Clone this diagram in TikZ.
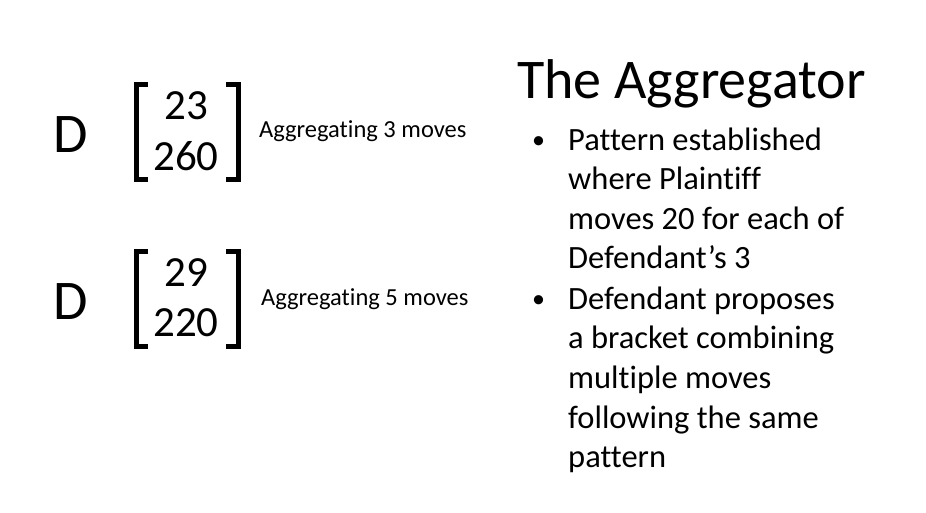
\documentclass[tikz,border=0pt]{standalone}
\usepackage{fontspec}
\setmainfont[Ligatures={NoCommon}]{Carlito}
\begin{document}
\begin{tikzpicture}[x=1pt,y=-1pt,
  big/.style={font=\fontsize{56}{56}\selectfont,anchor=center,inner sep=0},
  num/.style={font=\fontsize{43}{43}\selectfont,anchor=center,inner sep=0},
  lab/.style={font=\fontsize{24.5}{24.5}\selectfont,anchor=west,inner sep=0},
  txt/.style={font=\fontsize{32.5}{32.5}\selectfont,anchor=base west,inner sep=0},
  brk/.style={line width=5pt,line cap=butt}]
\useasboundingbox (0,0) rectangle (926,512);
\node[big] (d1) at (71,135) {D};
\draw[brk] (148,84) -- (136,84) -- (136,179) -- (148,179);
\draw[brk] (226,84) -- (238,84) -- (238,179) -- (226,179);
\node[num] (n1) at (186,106) {23};
\node[num] (n2) at (186,156) {260};
\node[lab] (l1) at (259,131) {Aggregating 3 moves};
\node[big] (d2) at (71,302) {D};
\draw[brk] (148,251) -- (136,251) -- (136,346) -- (148,346);
\draw[brk] (226,251) -- (238,251) -- (238,346) -- (226,346);
\node[num] (n3) at (186,273) {29};
\node[num] (n4) at (186,323) {220};
\node[lab] (l2) at (261,299) {Aggregating 5 moves};
\node[font=\fontsize{56}{56}\selectfont,anchor=base west,inner sep=0] (t) at (517,98) {The Aggregator};
\foreach \y/\s in {150/Pattern established,189/where Plaintiff,229/moves 20 for each of,268/Defendant’s 3,309/Defendant proposes,348/a bracket combining,388/multiple moves,428/following the same,467/pattern}
  \node[txt] at (568,\y) {\s};
\node[txt,font=\fontsize{26}{26}\selectfont] (b1) at (532,148) {•};
\node[txt,font=\fontsize{26}{26}\selectfont] (b2) at (532,307) {•};
\end{tikzpicture}
\end{document}
